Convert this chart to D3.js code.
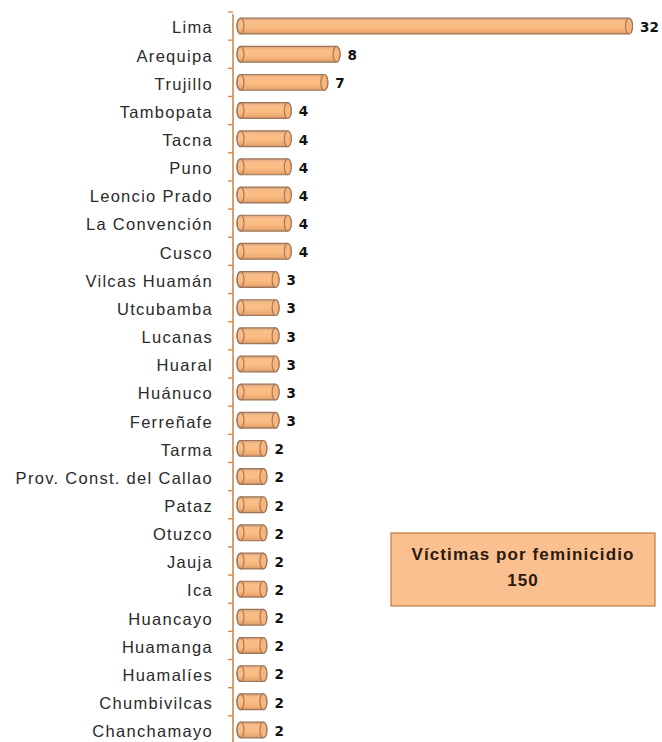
<!DOCTYPE html>
<html>
<head>
<meta charset="utf-8">
<script src="https://cdn.jsdelivr.net/npm/d3@7"></script>
<style>
  body { margin: 0; background: #fff; }
  svg { display: block; }
</style>
</head>
<body>
<div id="chart"></div>
<script>
const provinces = ["Lima", "Arequipa", "Trujillo", "Tambopata", "Tacna", "Puno", "Leoncio Prado",
  "La Convención", "Cusco", "Vilcas Huamán", "Utcubamba", "Lucanas", "Huaral", "Huánuco",
  "Ferreñafe", "Tarma", "Prov. Const. del Callao", "Pataz", "Otuzco", "Jauja", "Ica",
  "Huancayo", "Huamanga", "Huamalíes", "Chumbivilcas", "Chanchamayo"];
const victims = [32, 8, 7, 4, 4, 4, 4, 4, 4, 3, 3, 3, 3, 3, 3, 2, 2, 2, 2, 2, 2, 2, 2, 2, 2, 2];
const boxTitle = "Víctimas por feminicidio";
const boxTotal = "150";

const width = 662, height = 742;
const data = provinces.map((p, i) => ({ name: p, value: victims[i] }));

const svg = d3.select("#chart").append("svg")
  .attr("width", width).attr("height", height);

const defs = svg.append("defs");
const grad = defs.append("linearGradient").attr("id", "cyl").attr("x1", 0).attr("y1", 0).attr("x2", 0).attr("y2", 1);
grad.append("stop").attr("offset", "0%").attr("stop-color", "#d7a27a");
grad.append("stop").attr("offset", "20%").attr("stop-color", "#f9bd88");
grad.append("stop").attr("offset", "55%").attr("stop-color", "#fcbd84");
grad.append("stop").attr("offset", "85%").attr("stop-color", "#efaa70");
grad.append("stop").attr("offset", "100%").attr("stop-color", "#cf966c");

// scales
const xScale = d3.scaleLinear().domain([0, 32]).range([237, 627]);
const yScale = d3.scaleBand().domain(provinces).range([12, 744]).paddingInner(0.44).paddingOuter(0.22);
const bandStep = yScale.step();

// axis (labels a touch lower than the bar centres, like the original)
const axisX = 233;
const axis = d3.axisLeft(yScale).tickSize(0).tickPadding(20);
const yaxisg = svg.append("g").attr("transform", `translate(${axisX},2)`).call(axis);
yaxisg.select(".domain").remove();
yaxisg.selectAll("text")
  .attr("font-family", "Liberation Sans, Arial, sans-serif")
  .attr("font-size", 16.5)
  .attr("letter-spacing", 1.3)
  .attr("fill", "#2a2a2a");

svg.append("line")
  .attr("x1", axisX).attr("x2", axisX)
  .attr("y1", 14).attr("y2", height)
  .attr("stroke", "#d08a4c").attr("stroke-width", 1.6);

// tick marks between categories
const boundaries = provinces.map(p => yScale(p) - (bandStep - yScale.bandwidth()) / 2);
svg.selectAll(".tickmark").data(boundaries).join("line")
  .attr("class", "tickmark")
  .attr("x1", axisX - 5).attr("x2", axisX)
  .attr("y1", d => d).attr("y2", d => d)
  .attr("stroke", "#d08a4c").attr("stroke-width", 1.4);

// cylinder bars
const bh = yScale.bandwidth();
const cap = 3.5;
const outline = "#9c7558";
const bars = svg.selectAll(".bar").data(data).join("g").attr("class", "bar")
  .attr("transform", d => `translate(0,${yScale(d.name)})`);

bars.append("path")
  .attr("d", d => {
    const x0 = xScale(0) + cap, x1 = xScale(d.value) + 2;
    return `M${x0},0 L${x1},0 A${cap},${bh / 2} 0 0 1 ${x1},${bh} L${x0},${bh} A${cap},${bh / 2} 0 0 1 ${x0},0 Z`;
  })
  .attr("fill", "url(#cyl)")
  .attr("stroke", outline).attr("stroke-width", 1.2);

bars.append("ellipse")
  .attr("cx", d => xScale(0) + cap)
  .attr("cy", bh / 2)
  .attr("rx", cap).attr("ry", bh / 2)
  .attr("fill", "none")
  .attr("stroke", outline).attr("stroke-width", 1.1);

bars.append("ellipse")
  .attr("cx", d => xScale(d.value) + 2)
  .attr("cy", bh / 2)
  .attr("rx", cap).attr("ry", bh / 2)
  .attr("fill", "#f7b57c")
  .attr("stroke", outline).attr("stroke-width", 1.1);

bars.append("text")
  .attr("x", d => xScale(d.value) + 13)
  .attr("y", bh / 2 + 1)
  .attr("dy", "0.36em")
  .attr("font-family", "DejaVu Sans, sans-serif")
  .attr("font-weight", "bold")
  .attr("font-size", 13.5)
  .attr("fill", "#111")
  .text(d => d.value);

// total box
const box = svg.append("g").attr("transform", "translate(391,533)");
box.append("rect")
  .attr("width", 264).attr("height", 73)
  .attr("fill", "#fac08f")
  .attr("stroke", "#c07a40").attr("stroke-width", 1.2);
box.append("text")
  .attr("x", 132).attr("y", 27)
  .attr("text-anchor", "middle")
  .attr("font-family", "Liberation Sans, Arial, sans-serif")
  .attr("font-weight", "bold").attr("font-size", 17)
  .attr("letter-spacing", 1.1)
  .attr("fill", "#2a1a10")
  .text(boxTitle);
box.append("text")
  .attr("x", 132).attr("y", 53)
  .attr("text-anchor", "middle")
  .attr("font-family", "Liberation Sans, Arial, sans-serif")
  .attr("font-weight", "bold").attr("font-size", 17)
  .attr("letter-spacing", 1.1)
  .attr("fill", "#2a1a10")
  .text(boxTotal);
</script>
</body>
</html>
